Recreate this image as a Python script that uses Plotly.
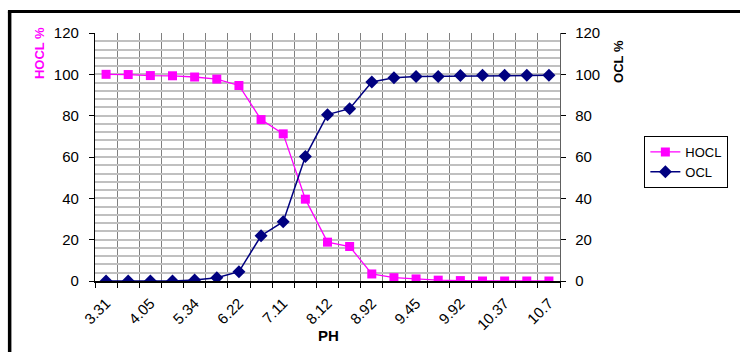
import plotly.graph_objects as go

# Data
ph_labels = ["3.31", "4.05", "5.34", "6.22", "7.11", "8.12", "8.92", "9.45", "9.92", "10.37", "10.7"]
hocl = [100, 99.9, 99.4, 99.3, 98.7, 97.7, 94.6, 78.1, 71.2, 39.6, 18.8, 16.7, 3.4, 1.6, 1.0, 0.4, 0.2, 0, 0, 0, 0]
ocl = [0, 0, 0, 0, 0.5, 1.6, 4.5, 21.9, 28.7, 60.2, 80.5, 83.4, 96.3, 98.4, 98.9, 99.0, 99.4, 99.5, 99.5, 99.5, 99.5]

idx = list(range(len(hocl)))

FONT = "Arial, Liberation Sans, sans-serif"
MAGENTA = "#FF00FF"
NAVY = "#000080"

fig = go.Figure()
fig.add_trace(go.Scatter(
    x=idx, y=hocl, name="HOCL", mode="lines+markers",
    line=dict(color=MAGENTA, width=1.3),
    marker=dict(symbol="square", size=9, color=MAGENTA),
    yaxis="y",
))
fig.add_trace(go.Scatter(
    x=idx, y=ocl, name="OCL", mode="lines+markers",
    line=dict(color=NAVY, width=1.5),
    marker=dict(symbol="diamond", size=10, color=NAVY),
    yaxis="y2",
))

W, H = 740, 352
L, R, T, B = 95, 171, 33, 71
pw = W - L - R
ph = H - T - B

def px2x(p):
    return (p - L) / pw

def px2y(p):
    return (H - B - p) / ph

fig.update_layout(
    width=W, height=H,
    margin=dict(l=L, r=R, t=T, b=B, pad=0),
    paper_bgcolor="white", plot_bgcolor="white",
    font=dict(family=FONT, size=15, color="black"),
    showlegend=True,
    legend=dict(
        x=px2x(655), y=px2y(136), xanchor="left", yanchor="top",
        bordercolor="black", borderwidth=1, bgcolor="white",
        font=dict(size=13, family=FONT), tracegroupgap=0,
        itemwidth=30,
    ),
    xaxis=dict(
        range=[-0.5, len(hocl) - 0.5],
        tickmode="array",
        tickvals=idx[::2], ticktext=ph_labels,
        tickangle=-45, ticks="", showgrid=False,
        showline=True, linecolor="black", linewidth=1.5,
        ticklabelstandoff=6,
        tickfont=dict(size=15),
        minor=dict(tick0=-0.5, dtick=1, ticks="outside", ticklen=5,
                   tickcolor="black", tickwidth=1,
                   showgrid=True, gridcolor="#808080", gridwidth=1.3),
        zeroline=False, fixedrange=True,
    ),
    yaxis=dict(
        range=[0, 120], dtick=20, tick0=0,
        ticks="outside", ticklen=5, tickcolor="black", tickwidth=1,
        showline=True, linecolor="black", linewidth=1.3,
        showgrid=True, gridcolor="#C0C0C0", gridwidth=2,
        minor=dict(dtick=4, showgrid=True, gridcolor="#C0C0C0", gridwidth=2),
        zeroline=False, ticklabelstandoff=7,
        tickfont=dict(size=15),
    ),
    yaxis2=dict(
        range=[0, 120], dtick=20, tick0=0, overlaying="y", side="right",
        ticks="outside", ticklen=5, tickcolor="black", tickwidth=1,
        showline=True, linecolor="#606060", linewidth=1.3,
        showgrid=False, zeroline=False, ticklabelstandoff=6,
        tickfont=dict(size=15),
    ),
    annotations=[
        dict(text="<b>HOCL %</b>", x=px2x(38), y=px2y(53), xref="paper", yref="paper",
             textangle=-90, showarrow=False, xanchor="center", yanchor="middle",
             font=dict(size=13, color=MAGENTA, family=FONT)),
        dict(text="<b>OCL %</b>", x=px2x(628), y=px2y(61), xref="paper", yref="paper",
             textangle=-90, showarrow=False, xanchor="center", yanchor="middle",
             font=dict(size=13, color="black", family=FONT)),
        dict(text="<b>PH</b>", x=px2x(333), y=px2y(335), xref="paper", yref="paper",
             showarrow=False, xanchor="center", yanchor="middle",
             font=dict(size=15, color="black", family=FONT)),
    ],
    shapes=[
        dict(type="line", xref="paper", yref="paper",
             x0=px2x(8), x1=px2x(8), y0=px2y(11.5), y1=px2y(420),
             line=dict(color="black", width=3.5)),
        dict(type="line", xref="paper", yref="paper",
             x0=px2x(6.25), x1=px2x(800), y0=px2y(11.5), y1=px2y(11.5),
             line=dict(color="black", width=3)),
    ],
)

fig.write_html("out.html")
